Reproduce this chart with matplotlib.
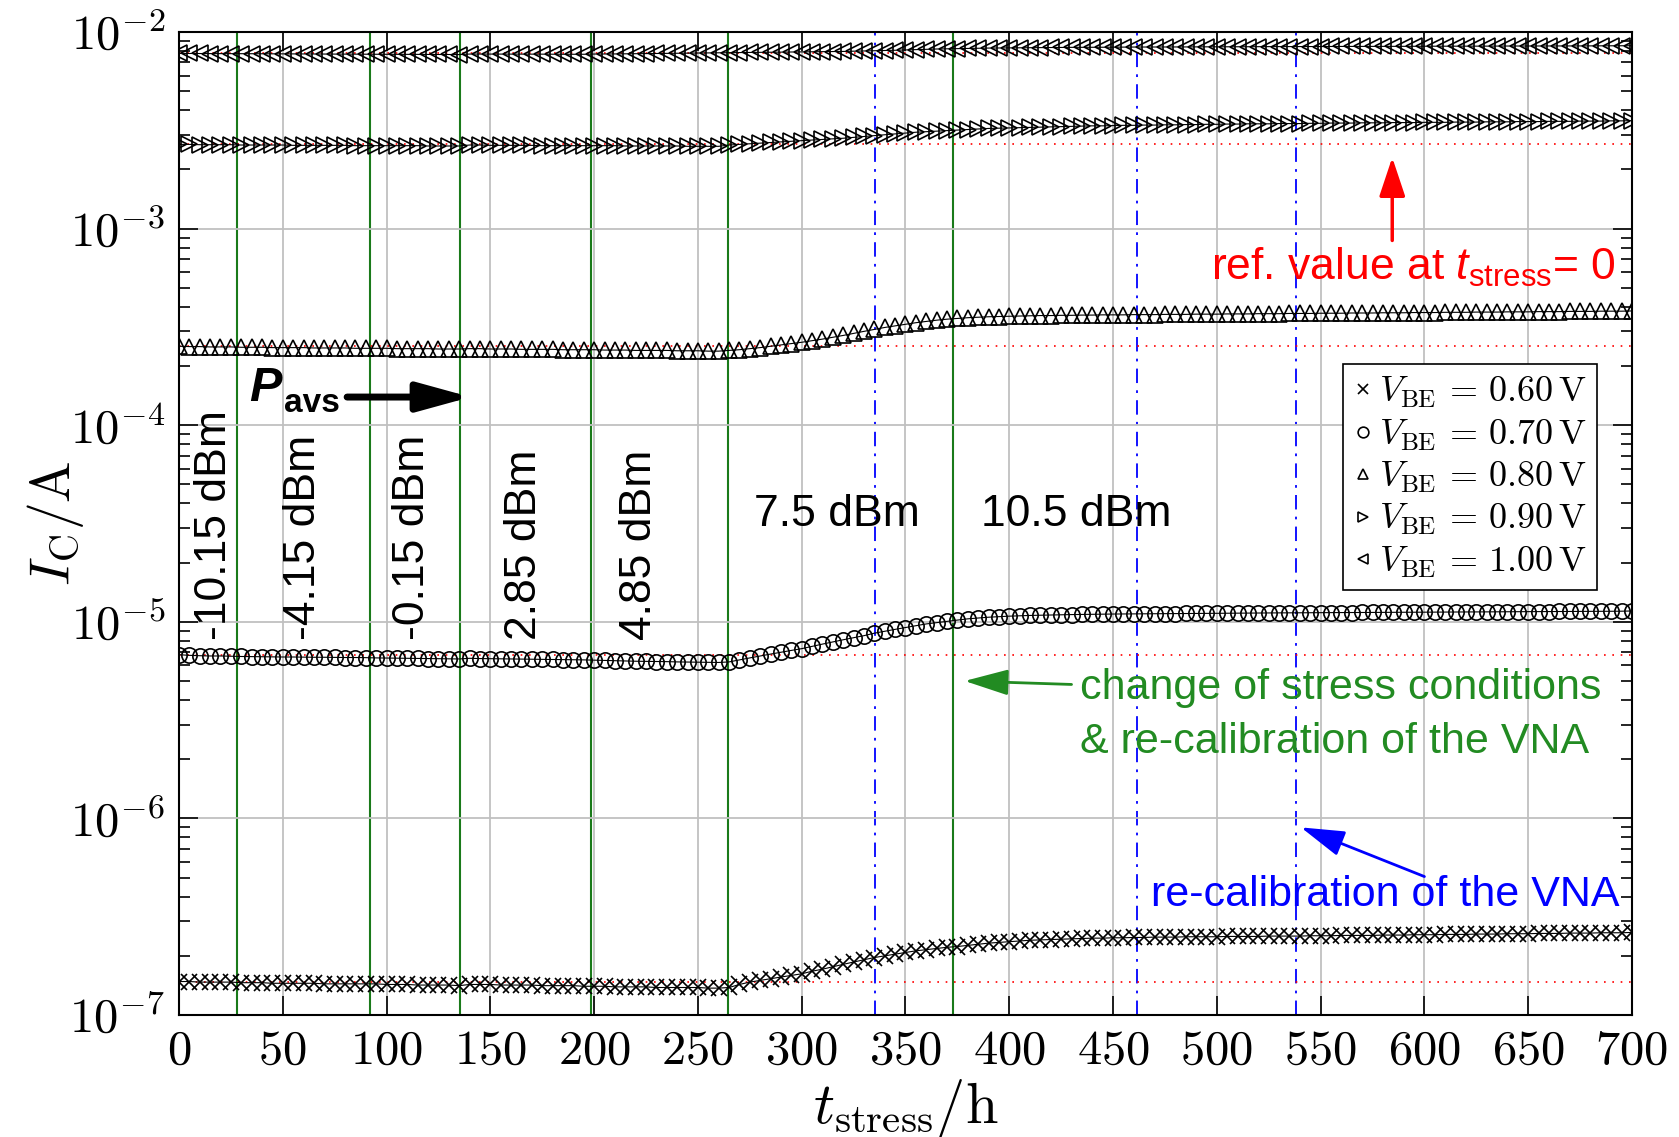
import numpy as np
import matplotlib
matplotlib.use("Agg")
import matplotlib.pyplot as plt
from matplotlib.ticker import FuncFormatter, MultipleLocator, LogLocator, NullFormatter

plt.rcParams["font.family"] = ["Liberation Sans", "DejaVu Sans"]
plt.rcParams["mathtext.fontset"] = "cm"
plt.rcParams["mathtext.rm"] = "Liberation Sans"
plt.rcParams["mathtext.it"] = "Liberation Sans:italic"
plt.rcParams["mathtext.bf"] = "Liberation Sans:bold"

# stress time in hours, one reading every 5 h
t_stress = np.arange(0, 701, 5)

# collector current for each base-emitter voltage
ic_060 = np.array([
    1.48, 1.48, 1.47, 1.47, 1.47, 1.47,
    1.46, 1.46, 1.46, 1.45, 1.45, 1.45, 1.45, 1.45, 1.44, 1.44, 1.44, 1.44, 1.44,
    1.44, 1.43, 1.43, 1.43, 1.42, 1.42, 1.42, 1.42, 1.41,
    1.43, 1.43, 1.43, 1.42, 1.42, 1.42, 1.42, 1.41, 1.41, 1.41, 1.41, 1.40,
    1.40, 1.40, 1.39, 1.39, 1.39, 1.39, 1.38, 1.38, 1.38, 1.38, 1.38, 1.37, 1.37, 1.38,
    1.43, 1.47, 1.50, 1.53, 1.56, 1.59, 1.62, 1.67, 1.71, 1.76, 1.81, 1.86, 1.91, 1.96,
    2.00, 2.04, 2.08, 2.12, 2.15, 2.18, 2.21,
    2.23, 2.26, 2.29, 2.32, 2.34, 2.36, 2.38, 2.40, 2.41, 2.42, 2.43, 2.44, 2.45, 2.46,
    2.46, 2.47,
    2.47, 2.48, 2.48, 2.49, 2.49, 2.49, 2.50, 2.50, 2.50, 2.50,
    2.51, 2.51, 2.51, 2.51, 2.52, 2.52, 2.52, 2.52, 2.53, 2.53,
    2.53, 2.54, 2.54, 2.54, 2.54, 2.55, 2.55, 2.55, 2.56, 2.56,
    2.56, 2.57, 2.57, 2.57, 2.58, 2.58, 2.58, 2.59, 2.59, 2.59,
    2.60, 2.60, 2.60, 2.61, 2.61, 2.61, 2.62, 2.62, 2.62, 2.63]) * 1e-7

ic_070 = np.array([
    6.80, 6.75, 6.72, 6.70, 6.70, 6.68,
    6.66, 6.65, 6.64, 6.63, 6.62, 6.62, 6.61, 6.60, 6.60, 6.59, 6.58, 6.58, 6.57,
    6.55, 6.54, 6.53, 6.52, 6.51, 6.50, 6.49, 6.48, 6.47,
    6.52, 6.50, 6.49, 6.48, 6.47, 6.46, 6.45, 6.44, 6.43, 6.42, 6.41, 6.40,
    6.38, 6.36, 6.34, 6.32, 6.30, 6.29, 6.28, 6.27, 6.25, 6.24, 6.23, 6.22, 6.21, 6.25,
    6.40, 6.55, 6.70, 6.85, 7.00, 7.15, 7.30, 7.50, 7.70, 7.90, 8.10, 8.30, 8.50, 8.75,
    8.95, 9.15, 9.35, 9.55, 9.75, 9.90, 10.05,
    10.20, 10.35, 10.45, 10.55, 10.62, 10.68, 10.73, 10.77, 10.80, 10.83, 10.86, 10.88,
    10.90, 10.92, 10.93, 10.95,
    10.96, 10.97, 10.98, 10.99, 11.00, 11.01, 11.02, 11.03, 11.04, 11.05,
    11.06, 11.07, 11.07, 11.08, 11.09, 11.10, 11.10, 11.11, 11.12, 11.12,
    11.13, 11.14, 11.14, 11.15, 11.16, 11.16, 11.17, 11.18, 11.18, 11.19,
    11.20, 11.20, 11.21, 11.22, 11.22, 11.23, 11.24, 11.24, 11.25, 11.26,
    11.26, 11.27, 11.28, 11.28, 11.29, 11.30, 11.30, 11.31, 11.32, 11.35]) * 1e-6

ic_080 = np.array([
    2.52, 2.51, 2.51, 2.50, 2.50, 2.50,
    2.49, 2.49, 2.49, 2.48, 2.48, 2.48, 2.48, 2.47, 2.47, 2.47, 2.47, 2.46, 2.46,
    2.46, 2.46, 2.45, 2.45, 2.45, 2.45, 2.44, 2.44, 2.44,
    2.45, 2.45, 2.44, 2.44, 2.44, 2.43, 2.43, 2.43, 2.43, 2.42, 2.42, 2.42,
    2.42, 2.41, 2.41, 2.41, 2.40, 2.40, 2.40, 2.40, 2.39, 2.39, 2.39, 2.38, 2.38, 2.40,
    2.42, 2.45, 2.48, 2.52, 2.56, 2.60, 2.64, 2.69, 2.74, 2.80, 2.86, 2.93, 3.00, 3.07,
    3.14, 3.20, 3.26, 3.32, 3.37, 3.42, 3.46,
    3.49, 3.52, 3.54, 3.56, 3.57, 3.58, 3.59, 3.60, 3.61, 3.61, 3.62, 3.62, 3.63, 3.63,
    3.64, 3.64,
    3.64, 3.65, 3.65, 3.65, 3.66, 3.66, 3.66, 3.67, 3.67, 3.67,
    3.68, 3.68, 3.68, 3.69, 3.69, 3.69, 3.70, 3.70, 3.70, 3.71,
    3.71, 3.71, 3.72, 3.72, 3.72, 3.73, 3.73, 3.73, 3.74, 3.74,
    3.74, 3.75, 3.75, 3.75, 3.76, 3.76, 3.76, 3.77, 3.77, 3.77,
    3.78, 3.78, 3.78, 3.79, 3.79, 3.79, 3.80, 3.80, 3.80, 3.81]) * 1e-4

ic_090 = np.array([
    2.68, 2.68, 2.67, 2.67, 2.67, 2.67,
    2.66, 2.66, 2.66, 2.66, 2.66, 2.65, 2.65, 2.65, 2.65, 2.65, 2.65, 2.64, 2.64,
    2.64, 2.64, 2.64, 2.64, 2.64, 2.63, 2.63, 2.63, 2.63,
    2.66, 2.66, 2.65, 2.65, 2.65, 2.65, 2.65, 2.64, 2.64, 2.64, 2.64, 2.64,
    2.64, 2.64, 2.64, 2.63, 2.63, 2.63, 2.63, 2.63, 2.63, 2.62, 2.62, 2.62, 2.62, 2.66,
    2.68, 2.70, 2.72, 2.74, 2.76, 2.78, 2.80, 2.82, 2.84, 2.86, 2.88, 2.91, 2.94, 2.97,
    3.00, 3.03, 3.06, 3.09, 3.11, 3.13, 3.15,
    3.17, 3.19, 3.21, 3.23, 3.24, 3.25, 3.26, 3.27, 3.28, 3.29, 3.30, 3.31, 3.32, 3.33,
    3.33, 3.34,
    3.35, 3.35, 3.36, 3.36, 3.37, 3.37, 3.38, 3.38, 3.39, 3.39,
    3.40, 3.40, 3.41, 3.41, 3.41, 3.42, 3.42, 3.42, 3.43, 3.43,
    3.44, 3.44, 3.44, 3.45, 3.45, 3.45, 3.46, 3.46, 3.46, 3.47,
    3.47, 3.47, 3.48, 3.48, 3.48, 3.49, 3.49, 3.49, 3.50, 3.50,
    3.50, 3.51, 3.51, 3.51, 3.52, 3.52, 3.52, 3.53, 3.53, 3.54]) * 1e-3

ic_100 = np.array([
    7.78, 7.77, 7.77, 7.76, 7.76, 7.76,
    7.75, 7.75, 7.74, 7.74, 7.74, 7.73, 7.73, 7.72, 7.72, 7.72, 7.71, 7.71, 7.70,
    7.70, 7.70, 7.69, 7.69, 7.69, 7.68, 7.68, 7.68, 7.67,
    7.72, 7.72, 7.72, 7.72, 7.71, 7.71, 7.71, 7.71, 7.70, 7.70, 7.70, 7.70,
    7.72, 7.72, 7.73, 7.74, 7.75, 7.76, 7.77, 7.78, 7.79, 7.80, 7.81, 7.82, 7.83, 7.85,
    7.86, 7.87, 7.88, 7.89, 7.90, 7.91, 7.92, 7.93, 7.94, 7.95, 7.96, 7.98, 8.00, 8.02,
    8.04, 8.07, 8.10, 8.13, 8.16, 8.19, 8.21,
    8.23, 8.25, 8.27, 8.28, 8.29, 8.30, 8.31, 8.32, 8.33, 8.34, 8.34, 8.35, 8.35, 8.36,
    8.36, 8.37,
    8.37, 8.38, 8.38, 8.38, 8.39, 8.39, 8.39, 8.40, 8.40, 8.40,
    8.41, 8.41, 8.41, 8.42, 8.42, 8.42, 8.43, 8.43, 8.43, 8.43,
    8.44, 8.44, 8.44, 8.44, 8.45, 8.45, 8.45, 8.45, 8.46, 8.46,
    8.46, 8.46, 8.47, 8.47, 8.47, 8.47, 8.48, 8.48, 8.48, 8.48,
    8.48, 8.49, 8.49, 8.49, 8.49, 8.50, 8.50, 8.50, 8.50, 8.51]) * 1e-3

series = [ic_060, ic_070, ic_080, ic_090, ic_100]
v_be = ["0.60", "0.70", "0.80", "0.90", "1.00"]
markers = ["x", "o", "^", ">", "<"]

# times where the stress power was changed (green) / VNA re-calibrated (blue)
t_change = [28, 92, 135.5, 198.5, 264.5, 373]
t_recal = [335.5, 461.5, 538]

# available source power per stress interval
p_rot_labels = ["-10.15 dBm", "-4.15 dBm", "-0.15 dBm", "2.85 dBm", "4.85 dBm"]
p_rot_t = [17, 60, 112.5, 166.5, 222]
p_flat_labels = ["7.5 dBm", "10.5 dBm"]
p_flat_t = [317, 432]

fig = plt.figure(figsize=(16.79, 11.37), dpi=100)
ax = fig.add_axes([0.1066, 0.1073, 0.8654, 0.8646])

ax.set_xlim(0, 700)
ax.set_ylim(1e-7, 1e-2)
ax.set_yscale("log")
ax.grid(True, which="major", color="#c0c0c0", lw=1.3, zorder=0)

for t in t_change:
    ax.axvline(t, color="#1a7a1a", lw=1.5, zorder=1.5)
for t in t_recal:
    ax.axvline(t, color="blue", lw=1.3, ls=(0, (8, 4, 1.5, 4)), zorder=1.5)

for ic in series:
    ax.axhline(ic[0], color="red", lw=1.2, ls=(0, (1, 4)), zorder=1.6)

for ic, v, m in zip(series, v_be, markers):
    ax.plot(t_stress, ic, color="black", lw=0.8, marker=m, ms=11, mfc="none",
            mec="black", mew=1.2, zorder=3,
            label=r"$V_\mathrm{BE}\,=\,%s\,\mathrm{V}$" % v)

ax.xaxis.set_major_locator(MultipleLocator(50))
ax.xaxis.set_major_formatter(FuncFormatter(lambda x, p: r"$%d$" % x))
ax.yaxis.set_major_locator(LogLocator(base=10))
ax.yaxis.set_major_formatter(FuncFormatter(lambda y, p: r"$10^{%d}$" % round(np.log10(y))))
ax.yaxis.set_minor_locator(LogLocator(base=10, subs=np.arange(2, 10)))
ax.yaxis.set_minor_formatter(NullFormatter())
ax.tick_params(which="both", direction="in", top=True, right=True, labelsize=35, width=1.2)
ax.tick_params(which="major", length=14, pad=10)
ax.tick_params(which="minor", length=8)
for s in ax.spines.values():
    s.set_linewidth(1.5)

ax.set_xlabel(r"$t_\mathrm{stress}/\mathrm{h}$", fontsize=42, labelpad=2)
ax.set_ylabel(r"$I_\mathrm{C}/\mathrm{A}$", fontsize=40)
ax.yaxis.set_label_coords(-0.064, 0.50)

leg = ax.legend(loc="upper left", bbox_to_anchor=(0.801, 0.662), borderaxespad=0,
                fontsize=26, frameon=True, fancybox=False, edgecolor="black",
                framealpha=1, handlelength=0.5, handletextpad=0.2, markerscale=0.7,
                borderpad=0.3, labelspacing=0.2)
leg.get_frame().set_linewidth(1.2)
for h in leg.legend_handles:
    h.set_linestyle("none")

for lab, t in zip(p_rot_labels, p_rot_t):
    ax.text(t, 8.1e-6, lab, rotation=90, ha="center", va="bottom", fontsize=32, zorder=5)
for lab, t in zip(p_flat_labels, p_flat_t):
    ax.text(t, 3.5e-5, lab, ha="center", va="center", fontsize=32, zorder=5)

# P_avs arrow
ax.text(34, 1.32e-4, "P", fontsize=35, fontweight="bold", fontstyle="italic",
        ha="left", va="baseline", zorder=5)
ax.text(50.5, 1.17e-4, "avs", fontsize=24, fontweight="bold", ha="left", va="baseline", zorder=5)
ax.annotate("", xy=(140.5, 1.39e-4), xytext=(81, 1.39e-4),
            arrowprops=dict(arrowstyle="-|>,head_length=0.8,head_width=0.22",
                            mutation_scale=40, lw=5, color="black", shrinkA=0, shrinkB=0),
            zorder=5)

# reference value note
ax.text(497, 5.5e-4, r"ref. value at $t_{\mathrm{stress}}$= 0", color="red", fontsize=32,
        ha="left", va="baseline", math_fontfamily="custom", zorder=5)
ax.annotate("", xy=(584.5, 2.3e-3), xytext=(584.5, 8.7e-4),
            arrowprops=dict(arrowstyle="-|>,head_length=1.2,head_width=0.4",
                            mutation_scale=20, lw=2.5, color="red", shrinkA=0, shrinkB=0),
            zorder=5)

# stress change note
ax.text(434, 4.07e-6, "change of stress conditions", color="#228b22", fontsize=31,
        ha="left", va="baseline", zorder=5)
ax.text(434, 2.15e-6, "& re-calibration of the VNA", color="#228b22", fontsize=31,
        ha="left", va="baseline", zorder=5)
ax.annotate("", xy=(378.5, 5.0e-6), xytext=(430, 4.8e-6),
            arrowprops=dict(arrowstyle="-|>,head_length=1.35,head_width=0.4",
                            mutation_scale=20, lw=2, color="#228b22", shrinkA=0, shrinkB=0),
            zorder=5)

# re-calibration note
ax.text(468.5, 3.6e-7, "re-calibration of the VNA", color="blue", fontsize=31,
        ha="left", va="baseline", zorder=5)
ax.annotate("", xy=(540.5, 9.0e-7), xytext=(600, 5.06e-7),
            arrowprops=dict(arrowstyle="-|>,head_length=1.35,head_width=0.4",
                            mutation_scale=20, lw=2, color="blue", shrinkA=0, shrinkB=0),
            zorder=5)

fig.savefig("out.png", dpi=100)
